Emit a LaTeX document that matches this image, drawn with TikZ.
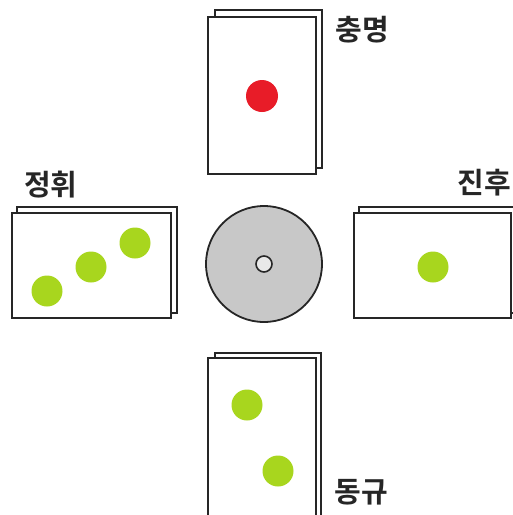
\documentclass[tikz,border=0pt]{standalone}
\usepackage{fontspec}
\newfontfamily\kr[BoldFont={Noto Sans CJK KR Bold}]{Noto Sans CJK KR}
\definecolor{dotgreen}{RGB}{168,214,30}
\definecolor{dotred}{RGB}{232,28,40}
\definecolor{diskgray}{RGB}{200,200,200}
\tikzset{
  sheet/.style={draw=black!85, line width=2.2pt, fill=white},
  gdot/.style={circle, fill=dotgreen, inner sep=0pt, minimum size=31pt},
  rdot/.style={circle, fill=dotred, inner sep=0pt, minimum size=32pt},
  lbl/.style={font=\kr\bfseries\fontsize{29}{29}\selectfont, inner sep=0pt, text=black!85}
}
\begin{document}
\begin{tikzpicture}[x=1pt,y=-1pt]
\useasboundingbox (0,0) rectangle (513,515);
% top card
\draw[sheet] (215,10) rectangle (322,168);
\draw[sheet] (208,17) rectangle (316,174);
\node[rdot] (r1) at (262,96) {};
\node[lbl] (t1) at (362,30) {충명};
% left card
\draw[sheet] (17,207) rectangle (177,313);
\draw[sheet] (12,213) rectangle (171,318);
\node[gdot] (l1) at (47,291) {};
\node[gdot] (l2) at (91,267) {};
\node[gdot] (l3) at (135,243) {};
\node[lbl] (t2) at (51,185) {정휘};
% right card
\draw[sheet] (359,207) rectangle (518,313);
\draw[sheet] (354,213) rectangle (511,318);
\node[gdot] (g1) at (433,267) {};
\node[lbl] (t3) at (484,183) {진후};
% bottom card
\draw[sheet] (215,353) rectangle (321,522);
\draw[sheet] (208,358) rectangle (316,522);
\node[gdot] (b1) at (247,405) {};
\node[gdot] (b2) at (278,471) {};
\node[lbl] (t4) at (361,492) {동규};
% disk
\node[circle, draw=black!85, line width=1.8pt, fill=diskgray, minimum size=116pt, inner sep=0pt] (disk) at (264,264) {};
\node[circle, draw=black!85, line width=1.6pt, fill=white!60!diskgray, minimum size=16pt, inner sep=0pt] (hole) at (disk.center) {};
\end{tikzpicture}
\end{document}
